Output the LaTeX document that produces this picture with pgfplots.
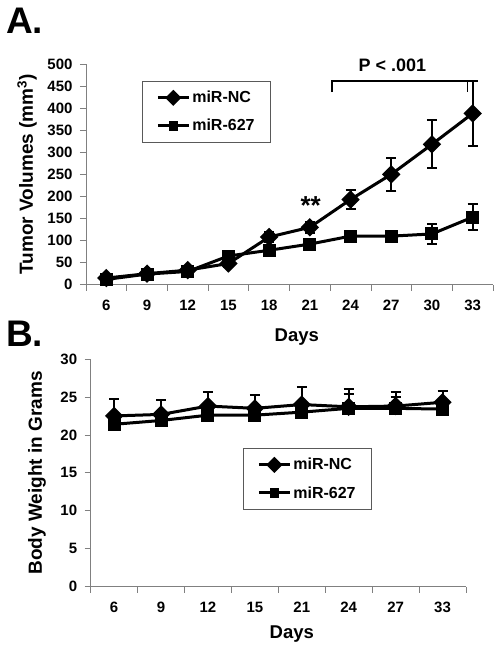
\documentclass[border=0pt]{standalone}
\usepackage{fontspec}
\setmainfont{Liberation Sans}
\usepackage{pgfplots}
\pgfplotsset{compat=1.18}
\pgfplotsset{
  basestyle/.style={
    scale only axis,
    anchor=south west,
    axis lines*=left,
    axis line style={draw=gray, line width=0.8pt, -},
    tick align=outside,
    major tick length=6pt,
    tick style={draw=gray, line width=0.8pt},
    ticklabel style={font=\bfseries\fontsize{15}{15}\selectfont},
    /pgf/number format/assume math mode=true,
    yticklabel style={xshift=-4pt},
    xticklabels={},
    extra x tick style={major tick length=0pt, xticklabel style={yshift=-12pt}},
    label style={font=\bfseries\fontsize{19}{19}\selectfont},
    xlabel style={font=\bfseries\fontsize{18.5}{18.5}\selectfont},
    clip=false,
    every axis plot/.append style={black, line width=3pt,
      mark options={solid, line width=1pt, fill=black}},
    legend cell align=left,
    legend image code/.code={\draw[mark repeat=2,mark phase=2,#1,mark size=4.2pt] plot coordinates {(0pt,0pt) (15.5pt,0pt) (31pt,0pt)};},
    legend style={draw=gray!70!black, line width=0.6pt, font=\bfseries\fontsize{16}{16}\selectfont,
      inner xsep=14pt, inner ysep=8pt, row sep=11pt,
      /tikz/every even column/.append style={column sep=1pt}},
  },
  ncstyle/.style={mark=square*, mark size=5pt, mark options={rotate=45}},
  mirstyle/.style={mark=square*, mark size=6pt},
}
\begin{document}
\begin{tikzpicture}
\path[use as bounding box] (0pt,0pt) rectangle (499pt,651pt);
\node[anchor=base west, inner sep=0pt, font=\bfseries\fontsize{37}{37}\selectfont] at (6pt,617pt) {A.};
\node[anchor=base west, inner sep=0pt, font=\bfseries\fontsize{37}{37}\selectfont] at (6pt,304pt) {B.};

\begin{axis}[basestyle,
  at={(86pt,366.3pt)}, width=407pt, height=220.7pt,
  xmin=-0.5, xmax=9.5, ymin=0, ymax=500,
  xtick={-0.5,0.5,1.5,2.5,3.5,4.5,5.5,6.5,7.5,8.5,9.5},
  extra x ticks={0,1,2,3,4,5,6,7,8,9},
  extra x tick labels={6,9,12,15,18,21,24,27,30,33},
  ytick={0,50,...,500},
  xlabel={Days},
  xlabel style={at={(axis description cs:0.518,0)}, anchor=center, yshift=-52.3pt},
  ylabel={Tumor Volumes (mm\textsuperscript{3})},
  ylabel style={at={(axis description cs:0,0.5)}, anchor=center, yshift=59pt},
  legend style={at={(axis description cs:0.1376,0.923)}, anchor=north west},
  error bars/y dir=both, error bars/y explicit,
  error bars/error bar style={line width=2pt, solid},
  error bars/error mark options={rotate=90, mark size=5pt, line width=2pt},
]
\addplot[ncstyle] coordinates {
 (0,15) +- (0,5) (1,25) +- (0,5) (2,33) +- (0,5) (3,48) +- (0,8) (4,108) +- (0,12)
 (5,130) +- (0,12) (6,193) +- (0,22) (7,250) +- (0,37) (8,318) +- (0,54) (9,388) +- (0,74)};
\addlegendentry{miR-NC}
\addplot[mirstyle] coordinates {
 (0,12) +- (0,4) (1,24) +- (0,5) (2,30) +- (0,5) (3,65) +- (0,8) (4,78) +- (0,10)
 (5,92) +- (0,10) (6,110) +- (0,10) (7,110) +- (0,10) (8,115) +- (0,22) (9,153) +- (0,29)};
\addlegendentry{miR-627}
\draw[line width=1.6pt] (axis cs:5.54,436) -- (axis cs:5.54,461.5) -- (axis cs:8.87,461.5) -- (axis cs:8.87,436);
\node[font=\bfseries\fontsize{18}{18}\selectfont] at (axis cs:7.03,497.7) {P < .001};
\node[font=\bfseries\fontsize{26}{26}\selectfont] at (axis cs:5.02,180) {**};
\end{axis}

\begin{axis}[basestyle,
  at={(90.7pt,64.3pt)}, width=375.3pt, height=227.7pt,
  xmin=-0.5, xmax=7.5, ymin=0, ymax=30,
  xtick={-0.5,0.5,1.5,2.5,3.5,4.5,5.5,6.5,7.5},
  extra x ticks={0,1,2,3,4,5,6,7},
  extra x tick labels={6,9,12,15,21,24,27,33},
  ytick={0,5,...,30},
  xlabel={Days},
  xlabel style={at={(axis description cs:0.536,0)}, anchor=center, yshift=-47.3pt},
  ylabel={Body Weight in Grams},
  ylabel style={at={(axis description cs:0,0.5)}, anchor=center, yshift=53.7pt},
  legend style={at={(axis description cs:0.406,0.609)}, anchor=north west},
  error bars/y dir=plus, error bars/y explicit,
  error bars/error bar style={line width=2pt, solid},
  error bars/error mark options={rotate=90, mark size=5pt, line width=2pt},
]
\addplot[ncstyle] coordinates {
 (0,22.5) +- (0,2.2) (1,22.7) +- (0,1.9) (2,23.8) +- (0,1.9) (3,23.5) +- (0,1.7)
 (4,24.0) +- (0,2.3) (5,23.7) +- (0,2.4) (6,23.8) +- (0,1.9) (7,24.3) +- (0,1.5)};
\addlegendentry{miR-NC}
\addplot[mirstyle] coordinates {
 (0,21.4) +- (0,1.0) (1,21.9) +- (0,0.9) (2,22.6) +- (0,1.0) (3,22.6) +- (0,1.0)
 (4,23.0) +- (0,1.2) (5,23.5) +- (0,1.9) (6,23.5) +- (0,1.5) (7,23.4) +- (0,1.0)};
\addlegendentry{miR-627}
\end{axis}
\end{tikzpicture}
\end{document}
